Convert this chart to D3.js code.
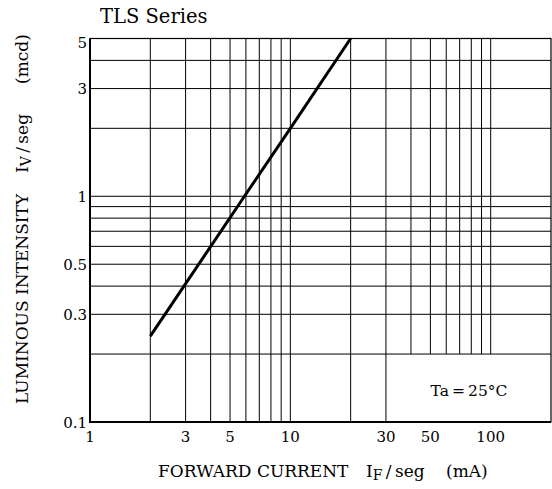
<!DOCTYPE html>
<html>
<head>
<meta charset="utf-8">
<script src="https://cdn.jsdelivr.net/npm/d3@7"></script>
<style>
    body { margin: 0; background: #fff; }
</style>
</head>
<body>
<div id="vis"></div>
<script>
// forward current (mA) vs luminous intensity (mcd)
const currentMA = [2, 5.9, 10, 20];
const intensityMcd = [0.24, 1.0, 2.0, 5.0];

const xTickValues = [1, 3, 5, 10, 30, 50, 100];
const yTickValues = [0.1, 0.3, 0.5, 1, 3, 5];

// grid lines
const xGridFull = [2, 3, 4, 5, 6, 7, 8, 9, 10, 20, 30];
const xGridShort = [40, 50, 60, 70, 80, 90, 100];   // stop at 0.2 (legend box below)
const yGrid = [0.2, 0.3, 0.4, 0.5, 0.6, 0.7, 0.8, 0.9, 1, 2, 3, 4];

const serif = "'DejaVu Serif', serif";

document.addEventListener("DOMContentLoaded", function () {
    const width = 552, height = 489;
    const svg = d3.select("#vis").append("svg")
        .attr("width", width)
        .attr("height", height);

    const left = 90, right = 551, top = 38.5, bottom = 422;

    const x = d3.scaleLog().domain([1, 200]).range([left, right]);
    const y = d3.scaleLog().domain([0.1, 5]).range([bottom, top]);

    const grid = svg.append("g").attr("stroke", "#000").attr("stroke-width", 1);

    grid.selectAll("line.vfull")
        .data(xGridFull)
        .enter().append("line")
        .attr("class", "vfull")
        .attr("x1", d => x(d)).attr("x2", d => x(d))
        .attr("y1", top).attr("y2", bottom);

    grid.selectAll("line.vshort")
        .data(xGridShort)
        .enter().append("line")
        .attr("class", "vshort")
        .attr("x1", d => x(d)).attr("x2", d => x(d))
        .attr("y1", top).attr("y2", y(0.2));

    grid.selectAll("line.h")
        .data(yGrid)
        .enter().append("line")
        .attr("class", "h")
        .attr("x1", left).attr("x2", right)
        .attr("y1", d => y(d)).attr("y2", d => y(d));

    // frame
    svg.append("rect")
        .attr("x", left).attr("y", top)
        .attr("width", right - left).attr("height", bottom - top)
        .attr("fill", "none")
        .attr("stroke", "#000")
        .attr("stroke-width", 1.2);
    svg.append("path")
        .attr("d", `M${left},${top}V${bottom}H${right}`)
        .attr("fill", "none")
        .attr("stroke", "#000")
        .attr("stroke-width", 2);

    // characteristic line
    const line = d3.line()
        .x(d => x(d[0]))
        .y(d => y(d[1]));
    svg.append("path")
        .datum(d3.zip(currentMA, intensityMcd))
        .attr("d", line)
        .attr("fill", "none")
        .attr("stroke", "#000")
        .attr("stroke-width", 3);

    // tick labels
    svg.selectAll("text.xtick")
        .data(xTickValues)
        .enter().append("text")
        .attr("class", "xtick")
        .attr("x", d => x(d))
        .attr("y", 442)
        .attr("text-anchor", "middle")
        .style("font-family", serif)
        .style("font-size", "15px")
        .text(d => d);

    svg.selectAll("text.ytick")
        .data(yTickValues)
        .enter().append("text")
        .attr("class", "ytick")
        .attr("x", left - 3)
        .attr("y", d => Math.max(y(d) + 5.5, top + 9.5))
        .attr("text-anchor", "end")
        .style("font-family", serif)
        .style("font-size", "15px")
        .text(d => d);

    // title
    svg.append("text")
        .attr("x", 100)
        .attr("y", 23)
        .style("font-family", serif)
        .style("font-size", "19.5px")
        .text("TLS Series");

    // axis titles
    const xt = svg.append("text")
        .attr("y", 477)
        .style("font-family", serif)
        .style("font-size", "17px");
    xt.append("tspan").attr("x", 158).text("FORWARD CURRENT");
    xt.append("tspan").attr("x", 366).text("I");
    xt.append("tspan").attr("dy", 3).style("font-size", "14px").text("F");
    xt.append("tspan").attr("dy", -3).text("\u2009/\u2009seg");
    xt.append("tspan").attr("x", 446).text("(mA)");

    const yt = svg.append("text")
        .attr("transform", "translate(27.5,0) rotate(-90)")
        .style("font-family", serif)
        .style("font-size", "17px");
    yt.append("tspan").attr("x", -404).text("LUMINOUS INTENSITY");
    yt.append("tspan").attr("x", -173).text("I");
    yt.append("tspan").attr("dy", 3).style("font-size", "14px").text("V");
    yt.append("tspan").attr("dy", -3).text("\u2009/\u2009seg");
    yt.append("tspan").attr("x", -84).text("(mcd)");

    svg.append("text")
        .attr("x", 469)
        .attr("y", 396)
        .attr("text-anchor", "middle")
        .style("font-family", serif)
        .style("font-size", "15.5px")
        .text("Ta\u2009=\u200925°C");
});
</script>
</body>
</html>
